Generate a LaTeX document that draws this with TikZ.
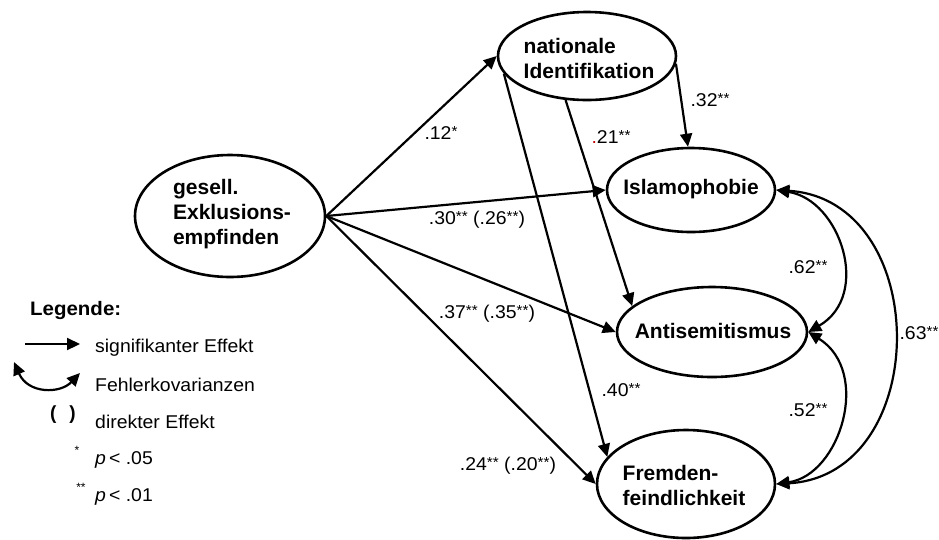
\documentclass[tikz,border=0pt]{standalone}
\usepackage{fontspec}
\setmainfont{Liberation Sans}
\newfontfamily\labfont[FakeStretch=1.05]{Liberation Sans}
\usetikzlibrary{arrows.meta,shapes.geometric}
% small raised significance stars
\newcommand\sig[1]{\raisebox{3pt}{\fontsize{14.5}{14}\selectfont #1}}
\begin{document}
\begin{tikzpicture}[x=1pt,y=-1pt,
  latent/.style={draw, ellipse, line width=2.6pt, inner sep=0pt},
  vtext/.style={font=\fontsize{21}{25}\selectfont\bfseries, align=left, inner sep=0pt},
  lab/.style={font=\labfont\fontsize{18.5}{20}\selectfont, inner sep=0pt},
  legtext/.style={font=\labfont\fontsize{18.5}{20}\selectfont, inner sep=0pt, anchor=west},
  tip/.tip={Triangle[length=13pt,width=12pt]},
  effect/.style={line width=2.2pt, -tip},
  covar/.style={line width=2.2pt, tip-tip},
]
\useasboundingbox (0,0) rectangle (939,539);

% latent variables
\node[latent, minimum width=190pt, minimum height=122pt] (ge) at (230,216) {};
\node[latent, minimum width=178pt, minimum height=88pt]  (ni) at (587,56) {};
\node[latent, minimum width=168pt, minimum height=84pt]  (is) at (691,190) {};
\node[latent, minimum width=190pt, minimum height=90pt]  (an) at (712,332) {};
\node[latent, minimum width=178pt, minimum height=108pt] (fr) at (686,484) {};

\node[vtext] (geT) at (232,214) {gesell.\\Exklusions-\\empfinden};
\node[vtext] (niT) at (589,58) {nationale\\Identifikation};
\node[vtext] (isT) at (691,189) {Islamophobie};
\node[vtext] (anT) at (713,331) {Antisemitismus};
\node[vtext] (frT) at (684,485) {Fremden-\\feindlichkeit};

% structural paths
\draw[effect] (ge.east) -- (ni.west);
\draw[effect] (ge.east) -- (is.west);
\draw[effect] (ge.east) -- (an.west);
\draw[effect] (ge.east) -- (fr.west);
\draw[effect] (ni.-5) -- (is.94);
\draw[effect] (ni.-116) -- (an.162);
\draw[effect] (ni.192) -- (fr.161);

% error covariances
\draw[covar] (is.east) .. controls (840,200) and (872,295) .. (an.east);
\draw[covar] (fr.east) .. controls (840,475) and (872,372) .. (an.east);
\draw[covar] (is.east) .. controls (933,200) and (933,475) .. (fr.east);

% coefficients
\node[lab] (c1) at (441,133) {.12\sig{*}};
\node[lab] (c2) at (477,220) {.30\sig{**} (.26\sig{**})};
\node[lab] (c3) at (487,314) {.37\sig{**} (.35\sig{**})};
\node[lab] (c4) at (508,466) {.24\sig{**} (.20\sig{**})};
\node[lab] (c5) at (621,390) {.40\sig{**}};
\node[lab] (c6) at (611,137) {\textcolor{red!75!black}{.}21\sig{**}};
\node[lab] (c7) at (710,100) {.32\sig{**}};
\node[lab] (c8) at (808,267) {.62\sig{**}};
\node[lab] (c9) at (808,410) {.52\sig{**}};
\node[lab] (c10) at (919,333) {.63\sig{**}};

% legend
\node[anchor=west, inner sep=0pt, font=\labfont\fontsize{19.5}{20}\selectfont\bfseries] (lg) at (30,310) {Legende:};
\coordinate (la1) at (25,344);
\coordinate (la2) at (80,344);
\draw[effect] (la1) -- (la2);
\node[legtext] (l1) at (95,348) {signifikanter Effekt};
\coordinate (lc1) at (14,362);
\coordinate (lc2) at (80,373);
\draw[covar] (lc1) .. controls (28,394) and (60,394) .. (lc2);
\node[legtext] (l2) at (95,385) {Fehlerkovarianzen};
\node[anchor=center, inner sep=0pt, font=\fontsize{19}{20}\selectfont\bfseries] (lp) at (63,415) {(\hspace{13pt})};
\node[legtext] (l3) at (95,422) {direkter Effekt};
\node[inner sep=0pt, font=\fontsize{12}{12}\selectfont] (ls1) at (77,450) {*};
\node[legtext] (l4) at (95,460) {\textit{p}\,< .05};
\node[inner sep=0pt, font=\fontsize{12}{12}\selectfont] (ls2) at (81,487) {**};
\node[legtext] (l5) at (95,497) {\textit{p}\,< .01};
\end{tikzpicture}
\end{document}
